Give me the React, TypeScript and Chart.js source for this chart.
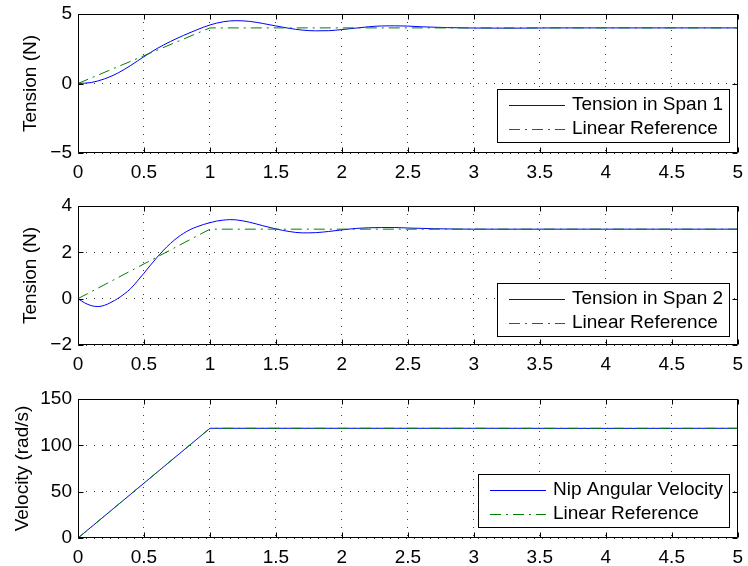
import React, { useEffect, useRef } from 'react';
import { Chart, registerables } from 'chart.js';

Chart.register(...registerables);

// ---------- data ----------
const span1Time = [0, 0.1, 0.2, 0.3, 0.4, 0.5, 0.6, 0.7, 0.8, 0.9, 1.0, 1.1, 1.2, 1.3, 1.4, 1.5, 1.6, 1.7, 1.8, 1.9, 2.0, 2.1, 2.2, 2.3, 2.4, 2.5, 2.6, 2.8, 3.0, 3.3, 3.6, 4.0, 5.0];
const span1Tension = [0, 0.07, 0.33, 0.74, 1.3, 1.93, 2.52, 3.02, 3.46, 3.86, 4.21, 4.44, 4.52, 4.47, 4.32, 4.14, 3.97, 3.84, 3.79, 3.8, 3.88, 3.98, 4.08, 4.14, 4.15, 4.13, 4.08, 4.02, 3.99, 3.98, 4.0, 4.0, 4.0];

const span2Time = [0, 0.05, 0.1, 0.15, 0.2, 0.25, 0.3, 0.35, 0.4, 0.45, 0.5, 0.55, 0.6, 0.65, 0.7, 0.75, 0.8, 0.85, 0.9, 0.95, 1.0, 1.05, 1.1, 1.15, 1.2, 1.3, 1.4, 1.5, 1.6, 1.7, 1.8, 1.9, 2.0, 2.1, 2.2, 2.3, 2.4, 2.5, 2.7, 3.0, 4.0, 5.0];
const span2Tension = [0, -0.18, -0.3, -0.34, -0.29, -0.16, 0.0, 0.2, 0.44, 0.76, 1.1, 1.45, 1.79, 2.1, 2.38, 2.62, 2.82, 2.98, 3.1, 3.2, 3.28, 3.35, 3.39, 3.41, 3.4, 3.3, 3.15, 3.01, 2.9, 2.84, 2.85, 2.9, 2.97, 3.03, 3.06, 3.07, 3.07, 3.05, 3.02, 3.0, 3.0, 3.0];

const refTime = [0, 1, 5];
const span1Reference = [0, 4, 4];
const span2Reference = [0, 3, 3];

const velocityTime = [0, 1, 2, 3, 4, 5];
const nipVelocity = [0, 118.4, 118.4, 118.4, 118.3, 118.4];
const velocityReference = [0, 118.4, 118.4, 118.4, 118.4, 118.4];

const xTicks = [0, 0.5, 1, 1.5, 2, 2.5, 3, 3.5, 4, 4.5, 5];
const xTickLabels = ['0', '0.5', '1', '1.5', '2', '2.5', '3', '3.5', '4', '4.5', '5'];
const y1Ticks = [-5, 0, 5];
const y1TickLabels = ['\u22125', '0', '5'];
const y2Ticks = [-2, 0, 2, 4];
const y2TickLabels = ['\u22122', '0', '2', '4'];
const y3Ticks = [0, 50, 100, 150];
const y3TickLabels = ['0', '50', '100', '150'];

const labels1 = ['Tension in Span 1', 'Linear Reference'];
const labels2 = ['Tension in Span 2', 'Linear Reference'];
const labels3 = ['Nip Angular Velocity', 'Linear Reference'];
const yTitles = ['Tension (N)', 'Tension (N)', 'Velocity (rad/s)'];

// ---------- styles ----------
const FONT = "'Liberation Sans', Arial, Helvetica, sans-serif";
const BLUE = '#0000ff';
const GREEN = '#008000';
const DASHDOT = [11, 5, 2, 5];
const CANVAS_W = 751;

const toPts = (xs: number[], ys: number[]) => xs.map((x, i) => ({ x, y: ys[i] }));

// horizontal 1px legend sample (solid or dash pattern)
function drawSample(ctx: CanvasRenderingContext2D, x0: number, x1: number, y: number, color: string, dash: number[]) {
  ctx.fillStyle = color;
  if (!dash.length) { ctx.fillRect(x0, y, x1 - x0, 1); return; }
  let x = x0; let i = 0;
  while (x < x1) {
    const len = dash[i % dash.length];
    if (i % 2 === 0) ctx.fillRect(x, y, Math.min(len, x1 - x), 1);
    x += len; i++;
  }
}

const framePlugin = {
  id: 'frame',
  afterDatasetsDraw(chart: any) {
    const { ctx, chartArea: a, scales } = chart;
    ctx.save();
    ctx.strokeStyle = '#000';
    ctx.lineWidth = 1;
    ctx.setLineDash([]);
    const L = Math.round(a.left) + 0.5;
    const R = Math.round(a.right) - 0.5;
    const T = Math.round(a.top) + 0.5;
    const B = Math.round(a.bottom) - 0.5;
    ctx.beginPath();
    ctx.rect(L, T, R - L, B - T);
    ctx.stroke();
    const tl = 5;
    ctx.beginPath();
    scales.x.ticks.forEach((t: any) => {
      const px = Math.round(scales.x.getPixelForValue(t.value)) + 0.5;
      ctx.moveTo(px, B); ctx.lineTo(px, B - tl);
      ctx.moveTo(px, T); ctx.lineTo(px, T + tl);
    });
    scales.y.ticks.forEach((t: any) => {
      const py = Math.round(scales.y.getPixelForValue(t.value)) + 0.5;
      ctx.moveTo(L, py); ctx.lineTo(L + tl, py);
      ctx.moveTo(R, py); ctx.lineTo(R - tl, py);
    });
    ctx.stroke();
    ctx.restore();
  },
  afterDraw(chart: any, _args: any, opts: any) {
    const { ctx, chartArea: a } = chart;
    const labels: string[] = opts.labels || [];
    const gap: number = opts.gap || 10;
    ctx.save();
    ctx.font = `19px ${FONT}`;
    const textW = Math.max(...labels.map((s) => ctx.measureText(s).width));
    const boxW = 12 + 56 + 7 + textW + 7;
    const boxH = 54;
    const right = Math.round(a.right) - 8;
    const bottom = Math.round(a.bottom) - gap;
    const left = Math.round(right - boxW);
    const top = bottom - boxH;
    ctx.fillStyle = '#fff';
    ctx.fillRect(left, top, right - left, boxH);
    ctx.strokeStyle = '#000';
    ctx.lineWidth = 1;
    ctx.setLineDash([]);
    ctx.strokeRect(left + 0.5, top + 0.5, right - left - 1, boxH - 1);
    const rows = [top + 15.5, top + 39.5];
    labels.forEach((s, i) => {
      drawSample(ctx, left + 12, left + 68, Math.round(rows[i]), i === 0 ? BLUE : GREEN, i === 0 ? [] : DASHDOT);
      ctx.fillStyle = '#000';
      ctx.textBaseline = 'middle';
      ctx.textAlign = 'left';
      ctx.fillText(s, left + 75, rows[i]);
    });
    ctx.restore();
  },
};

type Panel = {
  blueX: number[]; blueY: number[]; refX: number[]; refY: number[];
  names: string[]; yTicks: number[]; yLabels: string[]; title: string;
  titlePad: number; padTop: number; padBottom: number; top: number; height: number;
  smooth: boolean; legendGap: number;
};

const panels: Panel[] = [
  { blueX: span1Time, blueY: span1Tension, refX: refTime, refY: span1Reference, names: labels1, yTicks: y1Ticks, yLabels: y1TickLabels, title: yTitles[0], titlePad: 19.5, padTop: 20, padBottom: 7, top: -6, height: 194, smooth: true, legendGap: 10 },
  { blueX: span2Time, blueY: span2Tension, refX: refTime, refY: span2Reference, names: labels2, yTicks: y2Ticks, yLabels: y2TickLabels, title: yTitles[1], titlePad: 19.5, padTop: 18, padBottom: 3, top: 188, height: 188, smooth: true, legendGap: 8 },
  { blueX: velocityTime, blueY: nipVelocity, refX: velocityTime, refY: velocityReference, names: labels3, yTicks: y3Ticks, yLabels: y3TickLabels, title: yTitles[2], titlePad: 11, padTop: 23, padBottom: 0, top: 376, height: 190, smooth: false, legendGap: 10 },
];

function makeConfig(p: Panel): any {
  return {
    type: 'line',
    data: {
      datasets: [
        {
          label: p.names[0],
          data: toPts(p.blueX, p.blueY),
          borderColor: BLUE,
          borderWidth: 1,
          pointRadius: 0,
          fill: false,
          cubicInterpolationMode: p.smooth ? 'monotone' : 'default',
          tension: 0,
          order: 1,
        },
        {
          label: p.names[1],
          data: toPts(p.refX, p.refY),
          borderColor: GREEN,
          borderWidth: 1,
          borderDash: DASHDOT,
          pointRadius: 0,
          fill: false,
          tension: 0,
          order: 0,
        },
      ],
    },
    options: {
      responsive: false,
      animation: false,
      events: [],
      layout: { padding: { left: 0, right: 7, top: p.padTop, bottom: p.padBottom } },
      plugins: {
        legend: { display: false },
        tooltip: { enabled: false },
        title: { display: false },
        frame: { labels: p.names, gap: p.legendGap },
      },
      scales: {
        x: {
          type: 'linear',
          min: 0,
          max: 5,
          afterBuildTicks: (s: any) => { s.ticks = xTicks.map((v) => ({ value: v })); },
          afterFit: (s: any) => { s.height = 28; },
          ticks: {
            font: { size: 19, family: FONT },
            color: '#000',
            padding: 8,
            maxRotation: 0,
            autoSkip: false,
            callback: (v: number) => { const i = xTicks.indexOf(v); return i >= 0 ? xTickLabels[i] : ''; },
          },
          grid: { color: 'rgba(0,0,0,0.75)', lineWidth: 1, drawTicks: false },
          border: { display: false, dash: [1, 7] },
        },
        y: {
          type: 'linear',
          min: p.yTicks[0],
          max: p.yTicks[p.yTicks.length - 1],
          afterBuildTicks: (s: any) => { s.ticks = p.yTicks.map((v) => ({ value: v })); },
          afterFit: (s: any) => { s.width = 78; },
          ticks: {
            font: { size: 19, family: FONT },
            color: '#000',
            padding: 6,
            autoSkip: false,
            callback: (v: number) => { const i = p.yTicks.indexOf(v); return i >= 0 ? p.yLabels[i] : ''; },
          },
          grid: { color: 'rgba(0,0,0,0.75)', lineWidth: 1, drawTicks: false },
          border: { display: false, dash: [1, 7] },
          title: {
            display: true,
            text: p.title,
            color: '#000',
            font: { size: 19, family: FONT },
            padding: { top: p.titlePad, bottom: 0 },
          },
        },
      },
    },
    plugins: [framePlugin],
  };
}

export default function App() {
  const r1 = useRef<HTMLCanvasElement>(null);
  const r2 = useRef<HTMLCanvasElement>(null);
  const r3 = useRef<HTMLCanvasElement>(null);
  const refs = [r1, r2, r3];

  useEffect(() => {
    const charts = refs.map((r, i) => new Chart(r.current as HTMLCanvasElement, makeConfig(panels[i])));
    return () => charts.forEach((c) => c.destroy());
  }, []);

  return (
    <div style={{ position: 'absolute', left: 0, top: 0, width: 748, height: 566, background: '#fff', overflow: 'hidden' }}>
      {panels.map((p, i) => (
        <canvas
          key={i}
          ref={refs[i]}
          width={CANVAS_W}
          height={p.height}
          style={{ position: 'absolute', left: 0, top: p.top, display: 'block', width: CANVAS_W, height: p.height }}
        />
      ))}
    </div>
  );
}
